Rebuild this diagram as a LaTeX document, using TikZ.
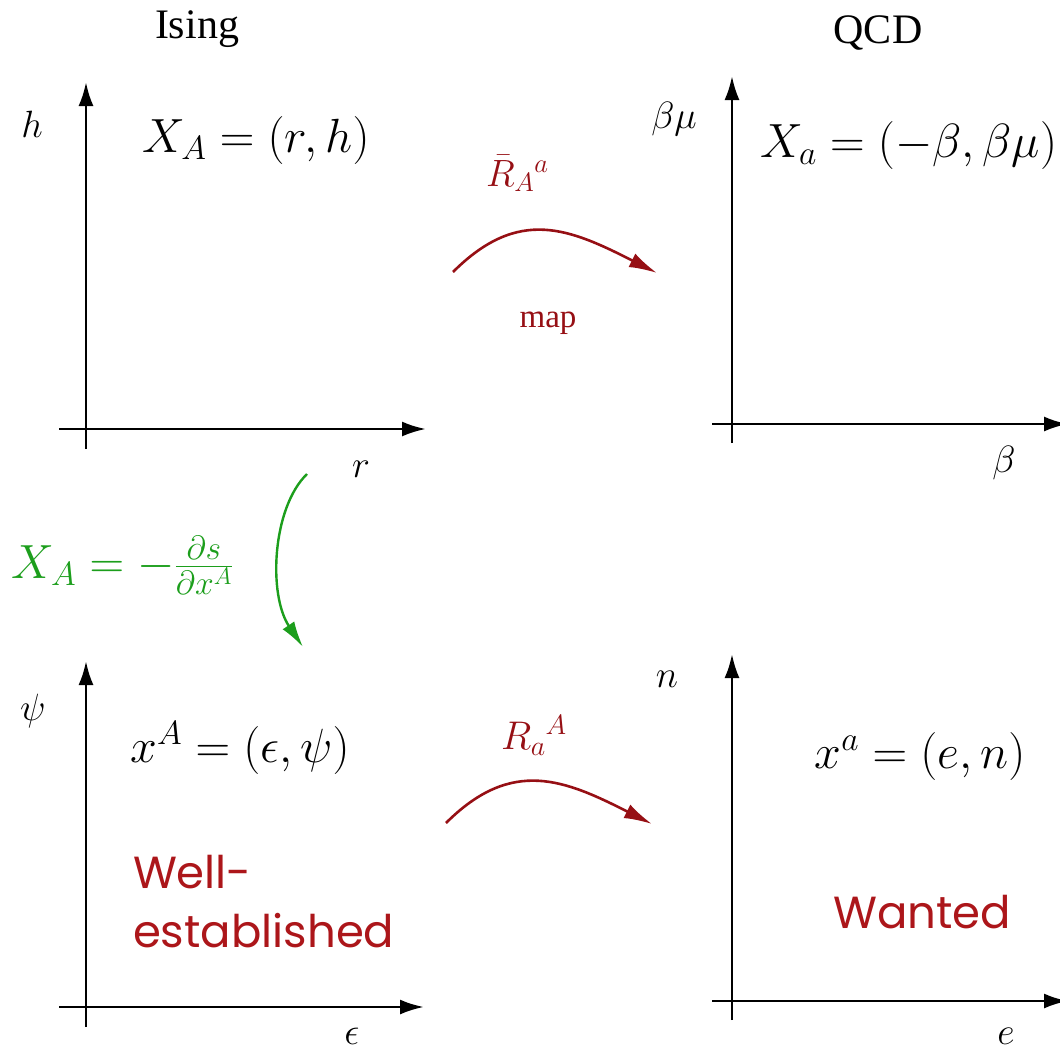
\RequirePackage{fix-cm}
\documentclass[tikz,border=0pt]{standalone}
\usepackage{fontspec}
\usetikzlibrary{arrows.meta}
\newfontfamily\timesfont{Liberation Serif}
\newfontfamily\gothicfont{Poppins}
\definecolor{mapred}{RGB}{150,15,20}
\definecolor{txtred}{RGB}{172,22,26}
\definecolor{mapgreen}{RGB}{28,158,28}
\newcommand\mathbig{\fontsize{48}{58}\selectfont}
\newcommand\axlab{\fontsize{38}{46}\selectfont}
\begin{document}
\begin{tikzpicture}[x=1pt,y=-1pt,
  every node/.style={inner sep=0pt,outer sep=0pt},
  axis/.style={line width=2.8pt,-{Latex[length=24pt,width=15pt]}},
  maparrow/.style={line width=2.6pt,mapred,-{Latex[length=28pt,width=15pt]}},
  greenarrow/.style={line width=2.4pt,mapgreen,-{Latex[length=26pt,width=14pt]}},
  title/.style={font=\timesfont\fontsize{42}{50}\selectfont,anchor=base},
  albl/.style={font=\axlab,anchor=base},
  formula/.style={font=\mathbig,anchor=base},
  redword/.style={font=\gothicfont\fontsize{45}{54}\selectfont,text=txtred,anchor=base west}
]
\useasboundingbox (0,0) rectangle (1060,1050);

% ---------- titles
\node[title] (ising) at (197,38) {Ising};
\node[title] (qcd) at (878,43) {QCD};

% ---------- top-left plot
\coordinate (tlvb) at (86,449);
\coordinate (tlvt) at (86,82);
\coordinate (tlhl) at (59,429);
\coordinate (tlhr) at (426,429);
\draw[axis] (tlvb) -- (tlvt);
\draw[axis] (tlhl) -- (tlhr);
\node[albl] (h) at (32,137) {$h$};
\node[formula] (XA) at (256,152) {$X_A=(r,h)$};
\node[albl] (r) at (361,477) {$r$};

% ---------- top-right plot
\coordinate (trvb) at (732,443);
\coordinate (trvt) at (732,76);
\coordinate (trhl) at (712,424);
\coordinate (trhr) at (1068,424);
\draw[axis] (trvb) -- (trvt);
\draw[axis] (trhl) -- (trhr);
\node[albl] (bm) at (674,128) {$\beta\mu$};
\node[formula,anchor=base west] (Xa) at (760,157) {$X_a=(-\beta,\beta\mu)$};
\node[albl] (beta) at (1004,472) {$\beta$};

% ---------- bottom-left plot
\coordinate (blvb) at (86,1027);
\coordinate (blvt) at (86,661);
\coordinate (blhl) at (59,1007);
\coordinate (blhr) at (424,1007);
\draw[axis] (blvb) -- (blvt);
\draw[axis] (blhl) -- (blhr);
\node[albl] (psi) at (33,720) {$\psi$};
\node[formula] (xA) at (240,762) {$x^A=(\epsilon,\psi)$};
\node[albl] (eps) at (352,1044) {$\epsilon$};
\node[redword] (well) at (133,888) {Well-};
\node[redword] (estab) at (133,947) {established};

% ---------- bottom-right plot
\coordinate (brvb) at (732,1020);
\coordinate (brvt) at (732,654);
\coordinate (brhl) at (712,1001);
\coordinate (brhr) at (1068,1001);
\draw[axis] (brvb) -- (brvt);
\draw[axis] (brhl) -- (brhr);
\node[albl] (n) at (667,687) {$n$};
\node[formula] (xa) at (920,768) {$x^a=(e,n)$};
\node[albl] (e) at (1006,1044) {$e$};
\node[redword,anchor=base] (wanted) at (922,928) {Wanted};

% ---------- top map
\coordinate (m1s) at (453,272);
\coordinate (m1e) at (657,273);
\draw[maparrow] (m1s) .. controls (519,206) and (570,229) .. (m1e);
\node[font=\fontsize{38}{46}\selectfont,text=mapred,anchor=base west] (Rbar) at (486,186) {$\bar R_A{}^{a}$};
\node[font=\timesfont\fontsize{33}{40}\selectfont,text=mapred,anchor=base] (map) at (548,327) {map};

% ---------- bottom map
\coordinate (m2s) at (446,823);
\coordinate (m2e) at (652,824);
\draw[maparrow] (m2s) .. controls (512,757) and (565,780) .. (m2e);
\node[font=\fontsize{40}{48}\selectfont,text=mapred,anchor=base west] (Raa) at (501,749) {$R_a{}^{A}$};

% ---------- green map
\coordinate (gs) at (307,474);
\coordinate (ge) at (303,647);
\draw[greenarrow] (gs) .. controls (272,508) and (268,595) .. (ge);
\node[font=\mathbig,text=mapgreen,anchor=base west] (green) at (12,578) {$X_A=-\frac{\partial s}{\partial x^A}$};
\end{tikzpicture}
\end{document}
